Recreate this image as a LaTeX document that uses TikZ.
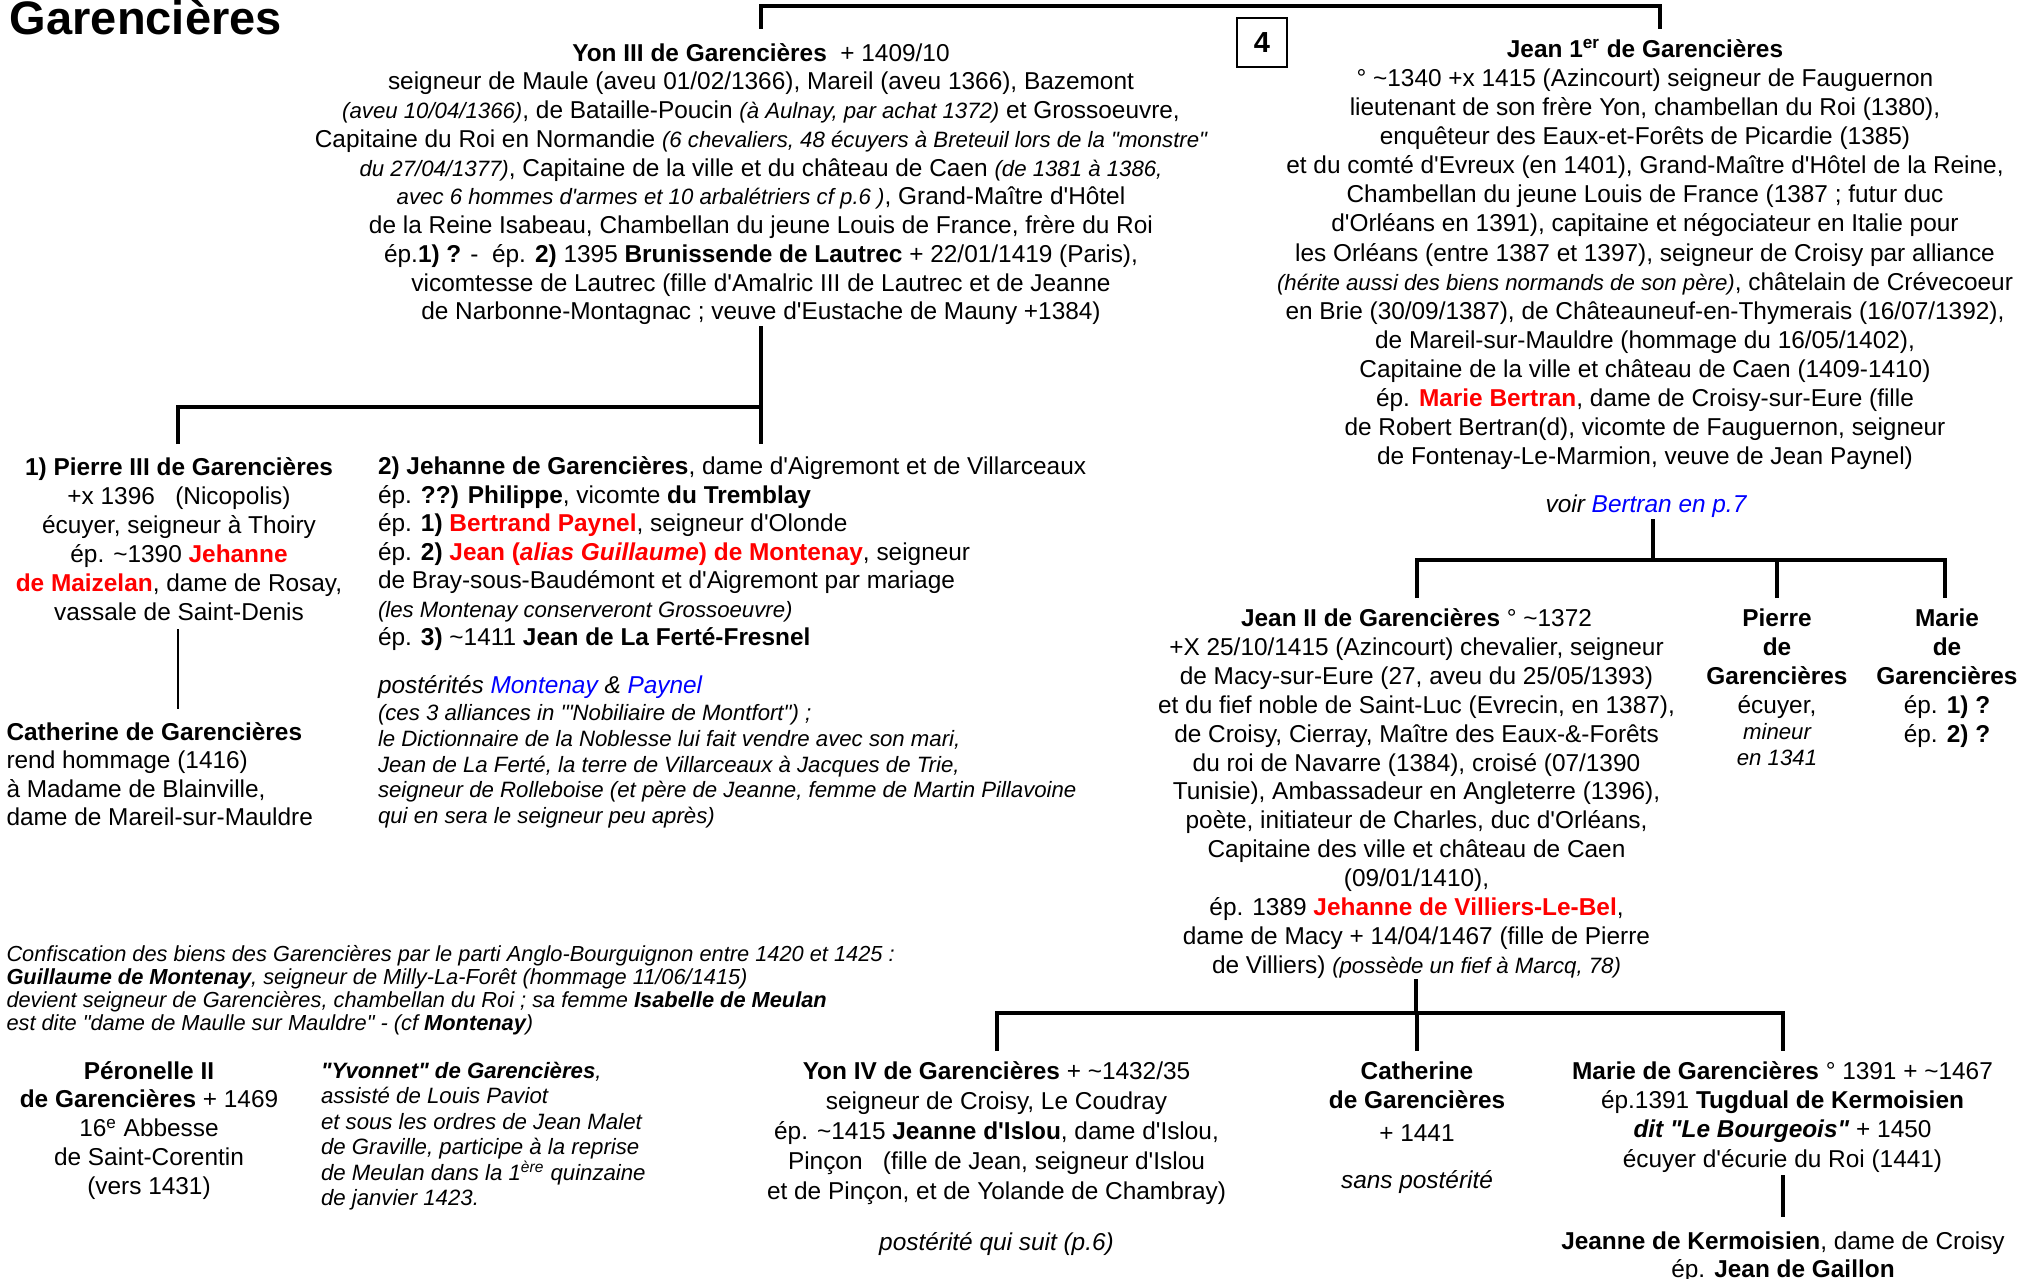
\documentclass[tikz,border=0pt]{standalone}
\usepackage{fontspec}
\setmainfont{Liberation Sans}[Ligatures=TeXOff]
\definecolor{nred}{RGB}{255,0,0}
\definecolor{nblue}{RGB}{0,0,255}
\newcommand\si[1]{{\fontsize{11.1}{13}\selectfont\itshape #1}}
\newcommand\rn[1]{\textcolor{nred}{\textbf{#1}}}
\newcommand\bl[1]{\textcolor{nblue}{#1}}
\newcommand\fl{\rule{0pt}{12pt}}
\newcommand\tl{\textasciitilde}
\begin{document}
\begin{tikzpicture}[x=0.5pt,y=-0.5pt,
  every node/.style={inner sep=0pt,outer sep=0pt},
  main/.style={font=\fontsize{12.2}{14.45}\selectfont,align=center,anchor=north},
  leftblk/.style={font=\fontsize{12.2}{14.2}\selectfont,align=left,anchor=north west},
  conn/.style={line width=1.6pt}]
\useasboundingbox (0,0) rectangle (2020,1279);

% title and page number
\node[anchor=base west,font=\fontsize{23.5}{28}\selectfont\bfseries] (title) at (10,35) {Garencières};
\node[draw,line width=0.7pt,minimum width=25pt,minimum height=24.5pt,font=\fontsize{14.5}{17}\selectfont\bfseries] (num) at (1262,42.5) {4};

% Yon III
\node[main,font=\fontsize{12.2}{14.38}\selectfont] (yon) at (761,37) {\fl\textbf{Yon III de Garencières}\ \ + 1409/10\\
seigneur de Maule (aveu 01/02/1366), Mareil (aveu 1366), Bazemont\\
\si{(aveu 10/04/1366)}, de Bataille-Poucin \si{(à Aulnay, par achat 1372)} et Grossoeuvre,\\
Capitaine du Roi en Normandie \si{(6 chevaliers, 48 écuyers à Breteuil lors de la "monstre"}\\
\si{du 27/04/1377)}, Capitaine de la ville et du château de Caen \si{(de 1381 à 1386,}\\
\si{avec 6 hommes d'armes et 10 arbalétriers cf p.6 )}, Grand-Maître d'Hôtel\\
de la Reine Isabeau, Chambellan du jeune Louis de France, frère du Roi\\
ép.\textbf{1) ?} -\ \ ép. \textbf{2)} 1395 \textbf{Brunissende de Lautrec} + 22/01/1419 (Paris),\\
vicomtesse de Lautrec (fille d'Amalric III de Lautrec et de Jeanne\\
de Narbonne-Montagnac ; veuve d'Eustache de Mauny +1384)};

% Jean 1er
\node[main,font=\fontsize{12.2}{14.54}\selectfont] (jean1) at (1645,33.5) {\fl\textbf{Jean 1\textsuperscript{er} de Garencières}\\
° \tl1340 +x 1415 (Azincourt) seigneur de Fauguernon\\
lieutenant de son frère Yon, chambellan du Roi (1380),\\
enquêteur des Eaux-et-Forêts de Picardie (1385)\\
et du comté d'Evreux (en 1401), Grand-Maître d'Hôtel de la Reine,\\
Chambellan du jeune Louis de France (1387 ; futur duc\\
d'Orléans en 1391), capitaine et négociateur en Italie pour\\
les Orléans (entre 1387 et 1397), seigneur de Croisy par alliance\\
\si{(hérite aussi des biens normands de son père)}, châtelain de Crévecoeur\\
en Brie (30/09/1387), de Châteauneuf-en-Thymerais (16/07/1392),\\
de Mareil-sur-Mauldre (hommage du 16/05/1402),\\
Capitaine de la ville et château de Caen (1409-1410)\\
ép. \rn{Marie Bertran}, dame de Croisy-sur-Eure (fille\\
de Robert Bertran(d), vicomte de Fauguernon, seigneur\\
de Fontenay-Le-Marmion, veuve de Jean Paynel)};
\node[anchor=base,font=\fontsize{12.2}{14.4}\selectfont\itshape] (voir) at (1646,512.5) {voir \bl{Bertran en p.7}};

% children of Yon III
\node[main,font=\fontsize{12.2}{14.5}\selectfont] (pierre3) at (179,451.5) {\fl\textbf{1) Pierre III de Garencières}\\
+x 1396\ \ \ (Nicopolis)\\
écuyer, seigneur à Thoiry\\
ép. \tl1390 \rn{Jehanne}\\
\rn{de Maizelan}, dame de Rosay,\\
vassale de Saint-Denis};
\node[leftblk,font=\fontsize{12.2}{14.3}\selectfont] (cath1) at (6.5,716) {\fl\textbf{Catherine de Garencières}\\
rend hommage (1416)\\
à Madame de Blainville,\\
dame de Mareil-sur-Mauldre};
\node[leftblk,font=\fontsize{12.2}{14.25}\selectfont] (jehanne) at (378,450.5) {\fl\textbf{2) Jehanne de Garencières}, dame d'Aigremont et de Villarceaux\\
ép. \textbf{??) Philippe}, vicomte \textbf{du Tremblay}\\
ép. \textbf{1)} \rn{Bertrand Paynel}, seigneur d'Olonde\\
ép. \textbf{2)} \rn{Jean (\textit{alias Guillaume}) de Montenay}, seigneur\\
de Bray-sous-Baudémont et d'Aigremont par mariage\\
\si{(les Montenay conserveront Grossoeuvre)}\\
ép. \textbf{3)} \tl1411 \textbf{Jean de La Ferté-Fresnel}};
\node[leftblk,font=\fontsize{11.1}{12.85}\selectfont\itshape] (poster) at (378,669) {\fl{\fontsize{12.2}{14}\selectfont postérités \bl{Montenay} \& \bl{Paynel}}\\[1pt]
(ces 3 alliances in '"Nobiliaire de Montfort") ;\\
le Dictionnaire de la Noblesse lui fait vendre avec son mari,\\
Jean de La Ferté, la terre de Villarceaux à Jacques de Trie,\\
seigneur de Rolleboise (et père de Jeanne, femme de Martin Pillavoine\\
qui en sera le seigneur peu après)};

% children of Jean 1er
\node[main] (jean2) at (1416.5,602.5) {\fl\textbf{Jean II de Garencières} ° \tl1372\\
+X 25/10/1415 (Azincourt) chevalier, seigneur\\
de Macy-sur-Eure (27, aveu du 25/05/1393)\\
et du fief noble de Saint-Luc (Evrecin, en 1387),\\
de Croisy, Cierray, Maître des Eaux-\&-Forêts\\
du roi de Navarre (1384), croisé (07/1390\\
Tunisie), Ambassadeur en Angleterre (1396),\\
poète, initiateur de Charles, duc d'Orléans,\\
Capitaine des ville et château de Caen\\
(09/01/1410),\\
ép. 1389 \rn{Jehanne de Villiers-Le-Bel},\\
dame de Macy + 14/04/1467 (fille de Pierre\\
de Villiers) \si{(possède un fief à Marcq, 78)}};
\node[main] (pierre) at (1777,602.5) {\fl\textbf{Pierre}\\ \textbf{de}\\ \textbf{Garencières}\\ écuyer,\\[-1.4pt] \si{mineur}\\[-1.4pt] \si{en 1341}};
\node[main] (marie) at (1947,602.5) {\fl\textbf{Marie}\\ \textbf{de}\\ \textbf{Garencières}\\ ép. \textbf{1) ?}\\ ép. \textbf{2) ?}};

% confiscation note
\node[leftblk,font=\fontsize{10.9}{11.45}\selectfont\itshape] (confis) at (6.5,937.5) {\fl Confiscation des biens des Garencières par le parti Anglo-Bourguignon entre 1420 et 1425 :\\
\textbf{Guillaume de Montenay}, seigneur de Milly-La-Forêt (hommage 11/06/1415)\\
devient seigneur de Garencières, chambellan du Roi ; sa femme \textbf{Isabelle de Meulan}\\
est dite "dame de Maulle sur Mauldre" - (cf \textbf{Montenay})};

% bottom row
\node[main,font=\fontsize{12.2}{14.45}\selectfont] (peron) at (149,1055) {\fl\textbf{Péronelle II}\\
\textbf{de Garencières} + 1469\\
16\textsuperscript{e} Abbesse\\
de Saint-Corentin\\
(vers 1431)};
\node[leftblk,font=\fontsize{11.1}{12.75}\selectfont\itshape] (yvon) at (321,1054) {\fl\textbf{"Yvonnet" de Garencières},\\
assisté de Louis Paviot\\
et sous les ordres de Jean Malet\\
de Graville, participe à la reprise\\
de Meulan dans la 1\textsuperscript{ère} quinzaine\\
de janvier 1423.};
\node[main,font=\fontsize{12.2}{15.1}\selectfont] (yon4) at (996.5,1055) {\fl\textbf{Yon IV de Garencières} + \tl1432/35\\
seigneur de Croisy, Le Coudray\\
ép. \tl1415 \textbf{Jeanne d'Islou}, dame d'Islou,\\
Pinçon\ \ \ (fille de Jean, seigneur d'Islou\\
et de Pinçon, et de Yolande de Chambray)};
\node[anchor=base,font=\fontsize{12.2}{14.4}\selectfont\itshape] (suit) at (996.5,1250) {postérité qui suit (p.6)};
\node[main,font=\fontsize{12.2}{14.6}\selectfont] (cath2) at (1417,1055) {\fl\textbf{Catherine}\\ \textbf{de Garencières}\\[1.8pt] + 1441};
\node[anchor=base,font=\fontsize{12.2}{14.4}\selectfont\itshape] (sans) at (1417,1188.5) {sans postérité};
\node[main,font=\fontsize{12.2}{14.7}\selectfont] (marie2) at (1782.5,1055) {\fl\textbf{Marie de Garencières} ° 1391 + \tl1467\\
ép.1391 \textbf{Tugdual de Kermoisien}\\
\textbf{\textit{dit "Le Bourgeois"}} + 1450\\
écuyer d'écurie du Roi (1441)};
\node[main,font=\fontsize{12.2}{14.2}\selectfont] (jeanne) at (1783,1225) {\fl\textbf{Jeanne de Kermoisien}, dame de Croisy\\
ép. \textbf{Jean de Gaillon}};

% connectors
\coordinate (yonTop) at (761,29);
\coordinate (jeanTop) at (1660,29);
\draw[conn] (yonTop) -- ++(0,-23) -| (jeanTop);

\coordinate (yonBot) at (761,326);
\coordinate (p3Top) at (178,444);
\coordinate (jhTop) at (761,444);
\draw[conn] (yonBot) -- (jhTop);
\draw[conn] (p3Top) -- ++(0,-37) -- ++(583,0);

\coordinate (p3Bot) at (178,629);
\coordinate (c1Top) at (178,709);
\draw[conn,line width=1.3pt] (p3Bot) -- (c1Top);

\coordinate (j1Bot) at (1653,519);
\coordinate (j2Top) at (1417,598);
\coordinate (pTop) at (1777,598);
\coordinate (mTop) at (1945,598);
\draw[conn] (j1Bot) -- ++(0,41);
\draw[conn] (j2Top) -- ++(0,-38) -| (mTop);
\draw[conn] (pTop) -- ++(0,-38);

\coordinate (j2Bot) at (1416,979);
\coordinate (y4Top) at (997,1051);
\coordinate (c2Top) at (1417,1051);
\coordinate (m2Top) at (1783,1051);
\draw[conn] (j2Bot) -- ++(0,34);
\draw[conn] (y4Top) -- ++(0,-38) -| (m2Top);
\draw[conn] (c2Top) -- ++(0,-38);

\coordinate (m2Bot) at (1783,1175);
\coordinate (jeTop) at (1783,1217);
\draw[conn] (m2Bot) -- (jeTop);
\end{tikzpicture}
\end{document}
